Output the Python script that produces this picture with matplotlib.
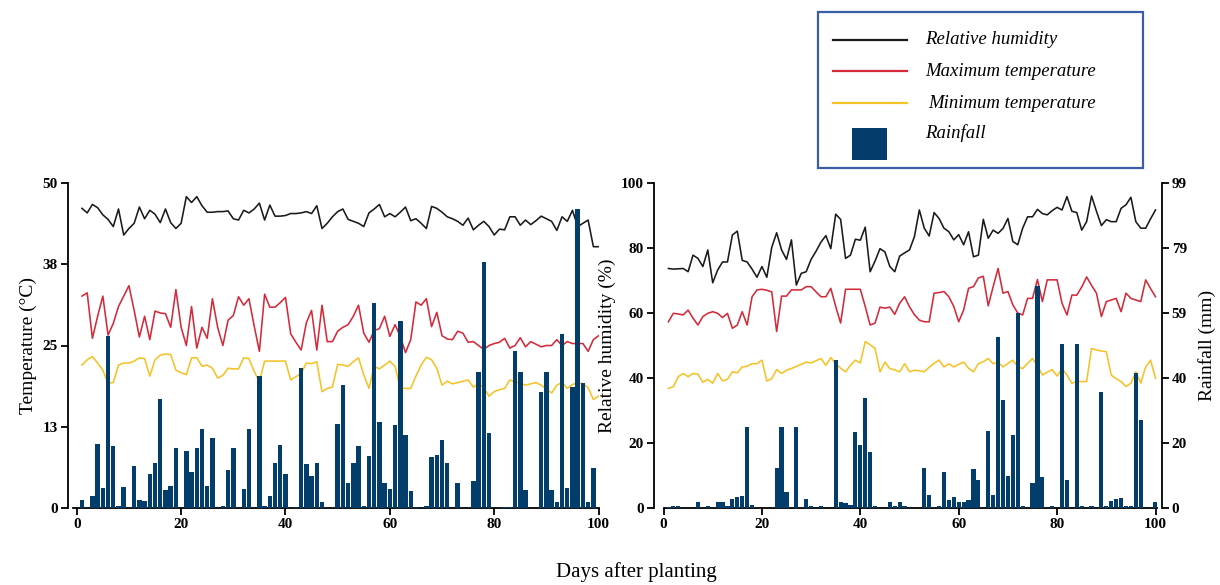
import numpy as np
import matplotlib
matplotlib.use("Agg")
import matplotlib.pyplot as plt
from matplotlib.lines import Line2D
from matplotlib.patches import Rectangle

plt.rcParams['font.family'] = ['Liberation Serif', 'DejaVu Serif']

days = np.arange(1, 101)

# ---------------- Left panel (Temperature scale) ----------------
left_rh = [46.1, 45.4, 46.7, 46.2, 45.1, 44.4, 43.3, 46.0, 42.0, 43.0,
           43.8, 46.3, 44.5, 45.8, 45.2, 43.9, 46.0, 43.9, 43.0, 43.8,
           47.9, 47.0, 47.9, 46.5, 45.5, 45.5, 45.6, 45.6, 45.7, 44.5,
           44.3, 45.8, 45.4, 46.0, 46.9, 44.3, 46.6, 44.9, 44.9, 45.0,
           45.3, 45.3, 45.4, 45.6, 45.3, 46.5, 43.0, 43.8, 44.8, 45.6,
           46.0, 44.4, 44.1, 43.8, 43.3, 45.4, 46.0, 46.7, 44.8, 45.3,
           44.8, 45.5, 46.3, 44.2, 44.5, 43.8, 43.0, 46.4, 46.1, 45.5,
           44.8, 44.5, 44.1, 43.5, 44.6, 42.8, 43.5, 44.1, 43.3, 42.0,
           42.9, 42.8, 44.8, 44.8, 43.5, 44.3, 43.6, 44.2, 44.9, 44.5,
           44.1, 42.7, 44.8, 44.1, 45.8, 43.3, 43.8, 44.3, 40.2, 40.2]

left_tmax = [32.6, 33.1, 26.1, 29.5, 32.6, 26.6, 28.4, 31.0, 32.6, 34.2,
             30.4, 26.3, 29.5, 25.9, 30.3, 30.0, 29.9, 27.8, 33.6, 27.8,
             25.0, 31.0, 24.6, 27.8, 26.1, 32.2, 27.8, 25.0, 28.9, 29.6,
             32.5, 31.2, 32.2, 28.0, 24.1, 32.9, 30.9, 30.9, 31.6, 32.4,
             26.8, 25.5, 24.3, 28.5, 30.4, 24.3, 31.2, 25.6, 25.6, 27.2,
             27.8, 28.2, 29.5, 31.2, 26.9, 25.5, 27.3, 27.6, 29.5, 26.4,
             28.2, 26.4, 23.9, 25.9, 31.7, 31.2, 32.2, 27.9, 30.1, 26.5,
             26.0, 25.9, 27.2, 26.9, 25.5, 25.6, 25.0, 24.4, 25.0, 25.3,
             25.5, 26.1, 24.6, 25.0, 26.2, 24.8, 25.6, 25.2, 24.8, 25.0,
             25.0, 25.9, 25.0, 25.6, 25.3, 25.3, 25.3, 24.1, 25.9, 26.5]

left_tmin = [22.0, 22.8, 23.3, 22.3, 21.2, 19.2, 19.3, 22.0, 22.3, 22.3,
             22.6, 23.1, 23.0, 20.3, 22.8, 23.5, 23.7, 23.6, 21.2, 20.8,
             20.5, 23.1, 23.1, 21.8, 22.0, 21.5, 20.0, 20.4, 21.5, 21.4,
             21.4, 23.1, 23.0, 21.0, 19.4, 22.6, 22.6, 22.6, 22.6, 22.6,
             19.7, 20.2, 20.7, 22.3, 22.2, 22.5, 17.9, 18.4, 18.6, 22.1,
             22.0, 21.8, 22.5, 23.1, 20.5, 18.4, 21.8, 21.4, 22.0, 22.6,
             21.8, 18.4, 18.4, 18.4, 20.3, 22.0, 23.2, 22.8, 21.5, 18.9,
             19.5, 19.1, 19.3, 19.5, 19.7, 18.6, 19.1, 18.5, 17.2, 17.9,
             18.2, 18.4, 19.7, 19.4, 19.2, 18.9, 19.1, 19.3, 18.9, 18.3,
             17.7, 18.9, 19.3, 18.4, 19.0, 19.3, 19.1, 18.5, 16.7, 17.2]

left_rain = [1.2, 0.0, 1.8, 9.8, 3.1, 26.5, 9.6, 0.3, 3.3, 0.0,
             6.4, 1.3, 1.1, 5.2, 6.9, 16.8, 2.7, 3.4, 9.3, 0.0,
             8.8, 5.6, 9.3, 12.1, 3.4, 10.7, 0.0, 0.3, 5.8, 9.3,
             0.0, 3.0, 12.1, 0.0, 20.3, 0.3, 1.9, 7.0, 9.7, 5.2,
             0.0, 0.2, 21.5, 6.7, 5.0, 6.9, 1.0, 0.0, 0.0, 12.9,
             19.0, 3.8, 6.9, 9.5, 0.3, 8.0, 31.6, 13.3, 3.8, 3.0,
             12.8, 28.8, 11.2, 2.6, 0.2, 0.0, 0.3, 7.9, 8.2, 10.5,
             7.0, 0.0, 3.9, 0.0, 0.0, 4.2, 20.9, 37.8, 11.6, 0.0,
             0.0, 0.2, 0.2, 24.2, 20.9, 2.7, 0.0, 0.0, 17.8, 20.9,
             2.8, 1.0, 26.8, 3.1, 18.6, 46.0, 19.2, 1.0, 6.2, 0.0]

left_yticks = [0, 12.5, 25, 37.5, 50]
left_yticklabels = ["0", "13", "25", "38", "50"]

# ---------------- Right panel ----------------
right_rh = [73.7, 73.5, 73.6, 73.7, 72.7, 77.8, 76.8, 74.3, 79.4, 69.3,
            73.2, 75.7, 75.7, 84.0, 85.2, 76.2, 75.7, 73.5, 71.0, 74.3,
            71.0, 80.2, 84.7, 79.4, 76.5, 82.5, 68.6, 72.2, 72.7, 76.5,
            79.0, 81.8, 83.8, 79.8, 90.4, 88.8, 76.8, 77.8, 82.7, 82.4,
            86.4, 72.7, 76.0, 79.8, 78.8, 74.3, 72.7, 77.5, 78.5, 79.4,
            83.5, 91.7, 86.1, 83.7, 90.9, 89.1, 86.1, 85.0, 82.5, 84.1,
            81.0, 85.0, 77.3, 77.8, 88.8, 83.0, 85.5, 84.5, 86.0, 89.1,
            82.0, 81.0, 86.1, 89.6, 89.6, 91.9, 90.6, 90.2, 91.5, 92.5,
            91.7, 95.8, 91.3, 90.9, 85.5, 88.1, 96.0, 91.3, 86.9, 88.7,
            88.1, 88.1, 92.2, 93.3, 95.6, 88.1, 86.1, 86.1, 89.0, 91.7]

right_tmax = [57.3, 59.9, 59.7, 59.4, 60.9, 58.4, 56.3, 58.9, 59.9, 60.4,
              59.9, 58.6, 59.9, 55.3, 56.3, 60.4, 56.3, 65.0, 67.1, 67.3,
              67.0, 66.5, 54.3, 65.2, 65.2, 67.1, 67.1, 67.1, 68.1, 68.1,
              66.5, 65.0, 65.0, 67.6, 62.0, 56.9, 67.3, 67.3, 67.3, 67.3,
              62.0, 56.3, 56.9, 61.8, 61.5, 61.8, 59.6, 63.0, 65.0, 61.9,
              59.5, 57.8, 57.3, 57.3, 66.1, 66.3, 66.6, 65.0, 62.0, 57.3,
              60.9, 67.6, 68.1, 70.8, 71.3, 62.2, 68.1, 73.7, 66.1, 66.6,
              62.5, 60.0, 59.4, 64.5, 64.5, 70.3, 63.5, 70.2, 70.2, 70.2,
              63.0, 59.4, 65.5, 65.5, 68.0, 71.1, 68.5, 66.1, 58.9, 63.5,
              64.0, 64.5, 60.4, 66.1, 64.5, 64.0, 63.5, 70.2, 67.5, 65.0]

right_tmin = [36.8, 37.3, 40.4, 41.4, 40.4, 41.4, 41.2, 38.7, 39.6, 38.4,
              41.4, 39.1, 39.6, 41.9, 41.6, 43.4, 43.6, 44.4, 44.4, 45.5,
              39.1, 39.8, 42.6, 41.4, 42.4, 42.9, 43.6, 44.2, 44.9, 44.6,
              45.3, 46.0, 43.9, 46.3, 44.4, 43.0, 41.9, 43.9, 45.5, 44.6,
              51.2, 50.2, 49.1, 41.9, 44.9, 42.9, 42.5, 41.9, 44.4, 41.9,
              42.4, 42.2, 41.9, 43.3, 44.5, 45.5, 43.4, 44.4, 43.4, 44.2,
              44.9, 43.0, 41.9, 44.4, 45.0, 46.0, 44.4, 44.9, 43.4, 44.5,
              45.5, 43.5, 42.9, 44.5, 46.0, 43.9, 40.9, 41.8, 42.6, 40.6,
              42.9, 40.9, 38.4, 38.9, 38.9, 38.9, 49.1, 48.6, 48.3, 48.1,
              40.9, 39.8, 38.9, 37.4, 38.4, 41.9, 38.4, 43.4, 45.5, 39.9]

right_rain = [0.3, 0.7, 0.5, 0.0, 0.0, 0.0, 1.7, 0.0, 0.7, 0.0,
              1.7, 1.7, 0.5, 2.7, 3.2, 3.7, 24.6, 0.8, 0.0, 0.0,
              0.0, 0.0, 12.3, 24.6, 5.0, 0.0, 24.7, 0.0, 2.7, 0.7,
              0.0, 0.5, 0.0, 0.0, 45.1, 1.7, 1.4, 1.0, 23.0, 19.2,
              33.4, 17.2, 0.7, 0.0, 0.0, 1.7, 0.5, 1.7, 0.5, 0.0,
              0.0, 0.0, 12.3, 4.0, 0.0, 0.5, 11.1, 2.5, 3.5, 1.7,
              1.7, 2.5, 11.9, 8.5, 0.0, 23.6, 4.0, 52.2, 32.9, 9.8,
              22.2, 59.5, 0.5, 0.0, 7.7, 67.6, 9.5, 0.0, 0.7, 0.0,
              49.9, 8.5, 0.0, 49.9, 0.5, 0.0, 0.7, 0.0, 35.2, 0.5,
              2.2, 2.6, 3.0, 0.5, 0.5, 41.0, 26.8, 0.0, 0.0, 1.9]

rh_ticks = [0, 20, 40, 60, 80, 100]
rain_ticks = [0, 19.8, 39.6, 59.4, 79.2, 99]
rain_ticklabels = ["0", "20", "40", "59", "79", "99"]
x_ticks = [0, 20, 40, 60, 80, 100]

C_RH = '#1a1a1a'
C_MAX = '#d42a3a'
C_MIN = '#f6c228'
C_RAIN = '#023d6c'
LW = 1.15

W, H = 1220, 585
fig = plt.figure(figsize=(W / 100, H / 100), dpi=100)


def style_axis(ax):
    ax.spines['top'].set_visible(False)
    for s in ax.spines.values():
        s.set_linewidth(1.3)
    ax.tick_params(axis='both', direction='out', length=5, width=1.3,
                   labelsize=11, pad=2)
    for lab in ax.get_xticklabels() + ax.get_yticklabels():
        lab.set_fontweight('bold')


# Left panel
axL = fig.add_axes([73.1 / W, (H - 508) / H, 526 / W, 325 / H])
axL.plot(days, left_rh, color=C_RH, lw=LW, zorder=2)
axL.plot(days, left_tmax, color=C_MAX, lw=LW, zorder=2)
axL.plot(days, left_tmin, color=C_MIN, lw=LW, zorder=2)
axL.bar(days, left_rain, width=0.85, color=C_RAIN, zorder=3)
axL.set_xlim(-0.7, 100.1)
axL.set_ylim(0, 50)
axL.set_xticks(x_ticks)
axL.set_yticks(left_yticks)
axL.set_yticklabels(left_yticklabels)
axL.spines['right'].set_visible(False)
axL.spines['left'].set_position(('outward', 4))
axL.set_ylabel('Temperature (°C)', fontsize=14, labelpad=4)
style_axis(axL)

# Right panel
axR = fig.add_axes([663.5 / W, (H - 508) / H, 493 / W, 325 / H])
axR.plot(days, right_rh, color=C_RH, lw=LW)
axR.plot(days, right_tmax, color=C_MAX, lw=LW)
axR.plot(days, right_tmin, color=C_MIN, lw=LW)
axR.set_xlim(0, 100.2)
axR.set_ylim(0, 100)
axR.set_xticks(x_ticks)
axR.set_yticks(rh_ticks)
axR.spines['right'].set_visible(False)
axR.spines['left'].set_position(('outward', 7))
axR.set_ylabel('Relative humidity (%)', fontsize=14, labelpad=4)
style_axis(axR)

axR2 = axR.twinx()
axR2.bar(days, right_rain, width=0.85, color=C_RAIN)
axR2.set_ylim(0, 99)
axR2.set_xlim(0, 100.2)
axR2.set_yticks(rain_ticks)
axR2.set_yticklabels(rain_ticklabels)
axR2.spines['left'].set_visible(False)
axR2.spines['bottom'].set_visible(False)
axR2.spines['right'].set_position(('outward', 4))
axR2.set_ylabel('Rainfall (mm)', fontsize=14, labelpad=8)
style_axis(axR2)

fig.text(636 / W, 1 - 572 / H, 'Days after planting', ha='center', va='center',
         fontsize=15)

# Legend box
fig.patches.append(Rectangle((818 / W, 1 - 168 / H), (1143 - 818) / W, (168 - 12) / H,
                             transform=fig.transFigure, fill=False,
                             edgecolor='#3b5ca6', linewidth=1.6))
leg_items = [("Relative humidity", C_RH, 40, 925),
             ("Maximum temperature", C_MAX, 71, 925),
             ("Minimum temperature", C_MIN, 103, 928)]
for label, col, yy, tx in leg_items:
    fig.lines.append(Line2D([833 / W, 907 / W], [1 - yy / H, 1 - yy / H],
                            transform=fig.transFigure, color=col, lw=1.6))
    fig.text(tx / W, 1 - yy / H, label, ha='left', va='center',
             fontsize=13.5, style='italic')
fig.patches.append(Rectangle((852 / W, 1 - 160 / H), 35 / W, 32 / H,
                             transform=fig.transFigure, facecolor=C_RAIN,
                             edgecolor='none'))
fig.text(925 / W, 1 - 133 / H, "Rainfall", ha='left', va='center',
         fontsize=13.5, style='italic')

fig.savefig('out.png', dpi=100)
